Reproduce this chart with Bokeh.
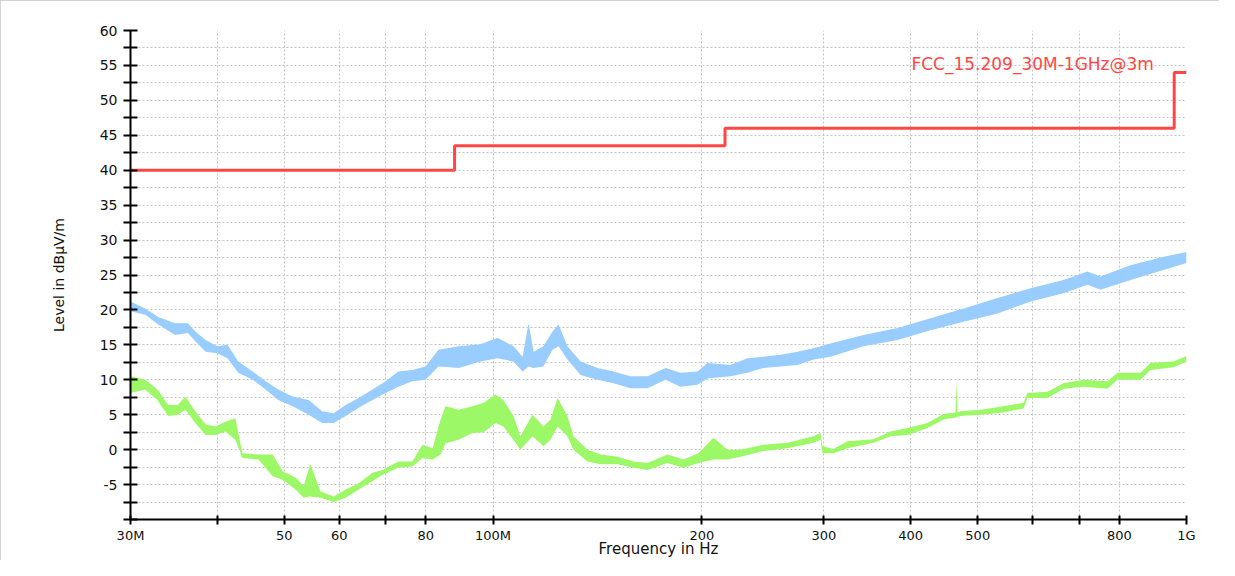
from bokeh.plotting import figure
from bokeh.models import Range1d, FixedTicker, Label
from bokeh.embed import file_html
from bokeh.resources import INLINE

# ---- data (frequency in MHz, level in dBuV/m) ----
blue_f = [30.0, 31.5, 32.9, 34.8, 36.3, 37.2, 38.5, 40.0, 41.4, 42.9, 45.0, 47.0, 49.0, 51.4,
          54.2, 56.7, 58.9, 61.3, 64.0, 67.0, 70.0, 73.0, 76.5, 79.9, 83.4, 89.2, 95.9, 101.5,
          107.0, 110.3, 112.5, 114.4, 118.2, 121.8, 124.3, 128.0, 133.7, 141.5, 149.2, 157.8,
          167.0, 177.3, 186.3, 197.2, 203.8, 220.0, 232.7, 245.4, 259.7, 274.8, 289.8, 306.6,
          342.2, 383.0, 427.4, 476.9, 533.9, 595.9, 664.8, 719.8, 751.6, 830.4, 926.6, 1000.0]
blue_lo = [19.8, 19.3, 17.9, 16.4, 16.7, 15.5, 14.0, 13.8, 13.1, 11.0, 10.0, 8.6, 7.1, 6.2,
           5.0, 3.8, 3.8, 4.8, 6.0, 7.1, 8.1, 9.0, 9.8, 10.0, 11.9, 11.7, 12.6, 13.1,
           12.6, 11.2, 11.9, 11.7, 11.9, 14.3, 14.8, 12.9, 10.7, 10.0, 9.5, 8.8,
           8.8, 10.0, 9.0, 9.3, 10.2, 10.5, 11.0, 11.7, 11.9, 12.1, 12.9, 13.3,
           14.8, 15.7, 17.1, 18.3, 19.5, 21.2, 22.4, 23.6, 22.9, 24.3, 25.7, 26.7]
blue_hi = [21.2, 20.2, 19.0, 18.1, 18.1, 16.9, 15.7, 14.8, 15.0, 12.6, 11.2, 9.8, 8.6, 7.6,
           7.1, 5.5, 5.2, 6.4, 7.4, 8.6, 9.8, 11.2, 11.4, 11.9, 14.3, 14.8, 15.1, 16.0,
           14.8, 13.3, 18.1, 14.0, 14.8, 16.9, 17.9, 14.8, 12.6, 11.7, 11.2, 10.5,
           10.5, 11.7, 11.0, 11.2, 12.4, 12.1, 13.1, 13.3, 13.6, 14.0, 14.5, 15.2,
           16.4, 17.4, 18.8, 20.2, 21.7, 23.1, 24.3, 25.5, 24.8, 26.4, 27.6, 28.3]

green_f = [30.0, 31.5, 32.8, 34.0, 35.1, 36.0, 37.2, 38.5, 39.8, 41.1, 42.5, 43.5, 45.9, 48.1,
           49.7, 51.9, 53.3, 54.5, 56.4, 58.9, 61.3, 64.0, 67.0, 69.3, 73.0, 76.5, 79.1, 81.8,
           84.0, 85.4, 89.2, 93.4, 96.9, 100.8, 103.5, 107.0, 109.5, 114.0, 118.2, 121.0,
           123.9, 128.0, 130.6, 136.8, 142.9, 151.2, 159.4, 167.0, 178.4, 188.2, 197.8,
           207.9, 217.8, 227.4, 245.4, 265.8, 289.8, 296.6, 298.6, 309.7, 324.4, 353.7,
           374.2, 396.0, 423.2, 446.3, 464.4, 466.0, 467.4, 472.2, 504.6, 544.6, 582.0,
           589.8, 630.4, 664.8, 710.4, 769.3, 795.2, 858.3, 887.4, 957.9, 1000.0]
green_lo = [8.1, 8.6, 7.1, 4.8, 5.0, 5.7, 3.8, 2.1, 2.1, 2.6, 1.4, -1.2, -1.4, -3.8,
            -4.3, -5.7, -6.9, -6.7, -6.9, -7.5, -6.9, -5.7, -4.5, -3.6, -2.6, -2.4, -1.2, -1.4,
            -0.7, 0.9, 1.4, 2.4, 2.5, 3.8, 3.3, 1.4, 0.0, 1.9, 0.5, 1.4,
            3.3, 1.9, 0.0, -1.7, -2.1, -2.1, -2.6, -2.9, -1.9, -2.6, -1.9,
            -1.4, -1.4, -1.0, -0.2, 0.2, 1.0, 1.4, -0.5, -0.5, 0.2, 1.0,
            1.9, 2.1, 3.1, 4.3, 4.6, 4.6, 4.7, 4.8, 5.0, 5.3, 5.9,
            7.4, 7.4, 8.7, 9.0, 8.7, 10.0, 10.0, 11.4, 11.8, 12.6]
green_hi = [10.5, 10.0, 8.6, 6.4, 6.4, 7.6, 5.5, 3.6, 3.3, 4.0, 4.5, -0.5, -0.7, -0.7,
            -3.1, -4.0, -5.2, -2.1, -6.0, -6.7, -5.7, -4.8, -3.3, -2.9, -1.7, -1.7, 0.7, 0.2,
            4.3, 6.2, 5.7, 6.2, 6.7, 7.9, 7.1, 4.8, 1.9, 5.0, 3.3, 4.3,
            7.4, 4.8, 1.9, 0.0, -0.7, -1.0, -1.7, -1.9, -0.7, -1.4, -0.5,
            1.7, 0.0, 0.0, 0.7, 1.0, 1.9, 2.4, 0.5, 0.1, 1.2, 1.5,
            2.6, 3.1, 3.8, 5.1, 5.3, 9.8, 5.4, 5.5, 5.7, 6.2, 6.7,
            8.1, 8.3, 9.5, 10.0, 9.8, 11.0, 11.0, 12.4, 12.6, 13.4]

limit_f = [30, 88, 216, 960, 1000]
limit_db = [40, 43.5, 46, 54, 54]
limit_name = "FCC_15.209_30M-1GHz@3m"

x_ticks = [30, 40, 50, 60, 70, 80, 100, 200, 300, 400, 500, 600, 700, 800, 1000]
x_labels = ["30M", "", "50", "60", "", "80", "100M", "200", "300", "400", "500", "", "", "800", "1G"]
y_ticks = [-10, -7.5, -5, -2.5, 0, 2.5, 5, 7.5, 10, 12.5, 15, 17.5, 20, 22.5, 25, 27.5,
           30, 32.5, 35, 37.5, 40, 42.5, 45, 47.5, 50, 52.5, 55, 57.5, 60]
y_labels = ["", "", "-5", "", "0", "", "5", "", "10", "", "15", "", "20", "", "25", "",
            "30", "", "35", "", "40", "", "45", "", "50", "", "55", "", "60"]

# ---- figure ----
p = figure(width=1219, height=560, x_axis_type="log",
           x_range=Range1d(30, 1000), y_range=Range1d(-10, 60),
           output_backend="svg", toolbar_location=None,
           min_border_left=130, min_border_right=33, min_border_top=30, min_border_bottom=39)
p.background_fill_color = "white"
p.border_fill_color = "white"
p.outline_line_color = None
p.styles = {"outline": "2px solid #c4c4c4", "outline-offset": "-2px"}

FONT = "DejaVu Sans"

p.xaxis.ticker = FixedTicker(ticks=x_ticks, minor_ticks=[])
p.xaxis.major_label_overrides = {t: l for t, l in zip(x_ticks, x_labels)}
p.yaxis.ticker = FixedTicker(ticks=y_ticks, minor_ticks=[])
p.yaxis.major_label_overrides = {t: l for t, l in zip(y_ticks, y_labels)}

for ax in (p.xaxis, p.yaxis):
    ax.axis_line_color = "black"
    ax.axis_line_width = 2
    ax.major_tick_line_color = "black"
    ax.major_tick_line_width = 2
    ax.minor_tick_line_color = None
    ax.major_label_text_font = FONT
    ax.major_label_text_color = "#111111"
    ax.axis_label_text_font = FONT
    ax.axis_label_text_font_style = "normal"
    ax.axis_label_text_color = "#111111"

p.yaxis.major_label_text_font_size = "14px"
p.xaxis.major_label_text_font_size = "13px"
p.xaxis.major_tick_in = 4
p.xaxis.major_tick_out = 5
p.xaxis.major_label_standoff = 3
p.yaxis.major_tick_in = 7
p.yaxis.major_tick_out = 7
p.yaxis.major_label_standoff = 6

p.yaxis.axis_label = "Level in dB\u00b5V/m"
p.yaxis.axis_label_text_font_size = "14px"
p.yaxis.axis_label_standoff = 30

p.xaxis.axis_label = "Frequency in Hz"
p.xaxis.axis_label_text_font_size = "15px"
p.xaxis.axis_label_standoff = -6

for g in (p.xgrid, p.ygrid):
    g.grid_line_color = "#c4c4c4"
    g.grid_line_dash = "2 2"
    g.grid_line_width = 1
p.xgrid.ticker = FixedTicker(ticks=x_ticks)
p.ygrid.ticker = FixedTicker(ticks=y_ticks)

# ---- traces ----
p.varea(x=blue_f, y1=blue_lo, y2=blue_hi, fill_color="#99ccff", fill_alpha=1.0)
p.varea(x=green_f, y1=green_lo, y2=green_hi, fill_color="#9cf866", fill_alpha=1.0)
p.step(x=limit_f, y=limit_db, mode="after", line_color="#ff4646", line_width=3)

p.add_layout(Label(x=600, y=55.2, text=limit_name, text_color="#ff4646",
                   text_font=FONT, text_font_size="17px",
                   text_align="center", text_baseline="middle"))

open("out.html", "w").write(file_html(p, INLINE))
